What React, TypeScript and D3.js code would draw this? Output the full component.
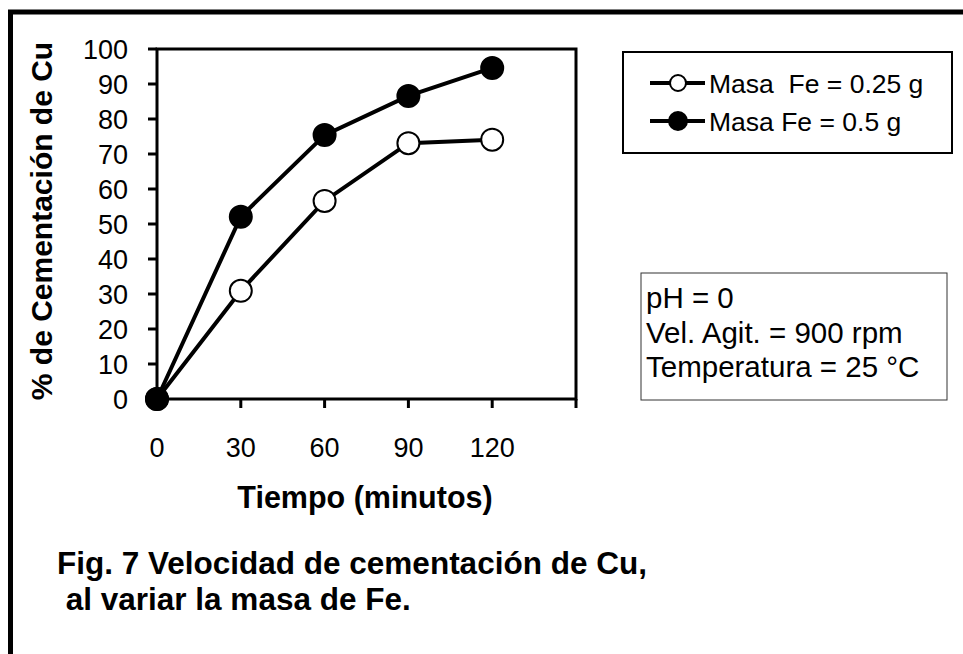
import React, { useEffect, useRef } from "react";
import * as d3 from "d3";

// time in minutes
const tiempo = [0, 30, 60, 90, 120];
// % cementation for each mass of Fe
const masa025 = [0, 30.9, 56.6, 73.1, 74.1];
const masa05 = [0, 52.1, 75.4, 86.6, 94.6];

const xTicks = [0, 30, 60, 90, 120, 150];
const yTicks = [0, 10, 20, 30, 40, 50, 60, 70, 80, 90, 100];

const legendLabels = ["Masa  Fe = 0.25 g", "Masa Fe = 0.5 g"];
const infoLines = ["pH = 0", "Vel. Agit. = 900 rpm", "Temperatura = 25 °C"];
const captionLines = ["Fig. 7 Velocidad de cementación de Cu,", " al variar la masa de Fe."];

const FONT = "'Liberation Sans', Arial, sans-serif";

export default function App() {
  const ref = useRef<SVGSVGElement>(null);

  useEffect(() => {
    const svg = d3.select(ref.current);
    svg.selectAll("*").remove();

    // outer frame (only top and left visible)
    svg.append("rect")
      .attr("x", 10.5).attr("y", 12)
      .attr("width", 1000).attr("height", 700)
      .attr("fill", "none").attr("stroke", "#000").attr("stroke-width", 5);

    var left = 157, top = 49, right = 576, bottom = 399;

    var x = d3.scaleLinear().domain([0, 150]).range([left, right]);
    var y = d3.scaleLinear().domain([0, 100]).range([bottom, top]);

    // plot box
    svg.append("rect")
      .attr("x", left).attr("y", top)
      .attr("width", right - left).attr("height", bottom - top)
      .attr("fill", "none").attr("stroke", "#000").attr("stroke-width", 3);

    // y ticks + labels
    var yAxis = svg.append("g");
    yTicks.forEach(function (t) {
      yAxis.append("line")
        .attr("x1", left - 9).attr("x2", left)
        .attr("y1", y(t)).attr("y2", y(t))
        .attr("stroke", "#000").attr("stroke-width", 3);
      yAxis.append("text")
        .attr("x", left - 29).attr("y", y(t))
        .attr("dy", "0.36em")
        .attr("text-anchor", "end")
        .style("font-family", FONT).style("font-size", "27px")
        .text(t);
    });

    // x ticks + labels
    var xAxis = svg.append("g");
    xTicks.forEach(function (t) {
      xAxis.append("line")
        .attr("x1", x(t)).attr("x2", x(t))
        .attr("y1", bottom).attr("y2", bottom + 9)
        .attr("stroke", "#000").attr("stroke-width", 3);
      if (t <= 120) {
        xAxis.append("text")
          .attr("x", x(t)).attr("y", 457)
          .attr("text-anchor", "middle")
          .style("font-family", FONT).style("font-size", "27px")
          .text(t);
      }
    });

    // axis titles
    svg.append("text")
      .attr("x", 365).attr("y", 508)
      .attr("text-anchor", "middle")
      .style("font-family", FONT).style("font-size", "30.5px").style("font-weight", "bold")
      .text("Tiempo (minutos)");

    svg.append("text")
      .attr("transform", "translate(52,221) rotate(-90)")
      .attr("text-anchor", "middle")
      .style("font-family", FONT).style("font-size", "30px").style("font-weight", "bold")
      .text("% de Cementación de Cu");

    var line = d3.line<number>()
      .x(function (d, i) { return x(tiempo[i]); })
      .y(function (d) { return y(d); });

    var series = [
      { values: masa025, fill: "#fff" },
      { values: masa05, fill: "#000" },
    ];

    series.forEach(function (s) {
      svg.append("path")
        .datum(s.values)
        .attr("d", line)
        .attr("fill", "none").attr("stroke", "#000").attr("stroke-width", 4);
    });
    series.forEach(function (s) {
      svg.append("g").selectAll("circle")
        .data(s.values)
        .enter()
        .append("circle")
        .attr("cx", function (d, i) { return x(tiempo[i]); })
        .attr("cy", function (d) { return y(d); })
        .attr("r", 11)
        .attr("fill", s.fill).attr("stroke", "#000").attr("stroke-width", 2);
    });

    // legend
    var lg = svg.append("g");
    lg.append("rect")
      .attr("x", 623).attr("y", 52).attr("width", 329).attr("height", 101)
      .attr("fill", "#fff").attr("stroke", "#000").attr("stroke-width", 2);
    legendLabels.forEach(function (lab, i) {
      var ly = 83 + i * 38;
      lg.append("line")
        .attr("x1", 650).attr("x2", 705).attr("y1", ly).attr("y2", ly)
        .attr("stroke", "#000").attr("stroke-width", 4);
      lg.append("circle")
        .attr("cx", 678).attr("cy", ly).attr("r", i === 0 ? 8 : 9)
        .attr("fill", series[i].fill).attr("stroke", "#000").attr("stroke-width", 2);
      lg.append("text")
        .attr("x", 709).attr("y", ly).attr("dy", "0.36em")
        .style("font-family", FONT).style("font-size", "26.5px")
        .style("white-space", "pre")
        .text(lab);
    });

    // conditions box
    var ib = svg.append("g");
    ib.append("rect")
      .attr("x", 641).attr("y", 273).attr("width", 306).attr("height", 127)
      .attr("fill", "#fff").attr("stroke", "#333").attr("stroke-width", 1);
    infoLines.forEach(function (t, i) {
      ib.append("text")
        .attr("x", 646).attr("y", 308 + i * 34.5)
        .style("font-family", FONT).style("font-size", "29.5px")
        .style("white-space", "pre")
        .text(t);
    });

    // caption
    captionLines.forEach(function (t, i) {
      svg.append("text")
        .attr("x", 57).attr("y", 574 + i * 36)
        .style("font-family", FONT).style("font-size", "31.5px").style("font-weight", "bold")
        .style("white-space", "pre")
        .text(t);
    });
  }, []);

  return (
    <svg
      ref={ref}
      width={963}
      height={654}
      style={{ position: "absolute", left: 0, top: 0, background: "#fff" }}
    ></svg>
  );
}
